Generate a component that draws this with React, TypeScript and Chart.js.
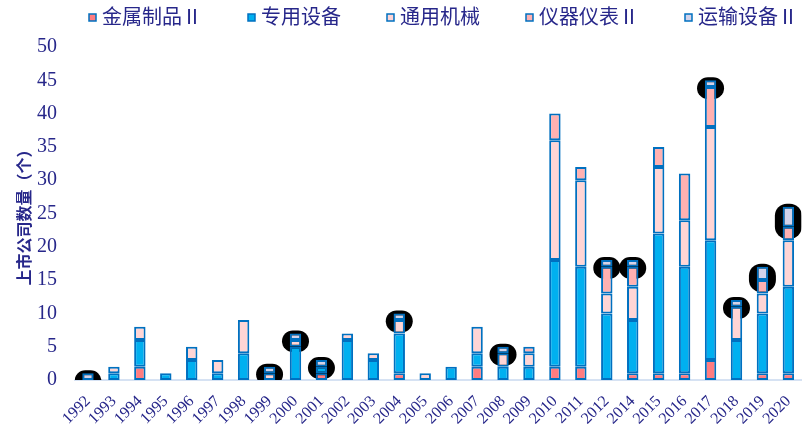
import React, { useEffect, useRef } from "react";
import { Chart, registerables } from "chart.js";

Chart.register(...registerables);

const years = [
  "1992", "1993", "1994", "1995", "1996", "1997", "1998", "1999", "2000", "2001",
  "2002", "2003", "2004", "2005", "2006", "2007", "2008", "2009", "2010", "2011",
  "2012", "2014", "2015", "2016", "2017", "2018", "2019", "2020",
];
const metalProducts = [0, 0, 2, 0, 0, 0, 0, 0, 0, 1, 0, 0, 1, 0, 0, 2, 0, 0, 2, 2, 0, 1, 1, 1, 3, 0, 1, 1];
const specialEquipment = [0, 1, 4, 1, 3, 1, 4, 0, 5, 1, 6, 3, 6, 0, 2, 2, 2, 2, 16, 15, 10, 8, 21, 16, 18, 6, 9, 13];
const generalMachinery = [0, 1, 2, 0, 2, 2, 5, 1, 1, 0, 1, 1, 2, 1, 0, 4, 2, 2, 18, 13, 3, 5, 10, 7, 17, 5, 3, 7];
const instruments = [0, 0, 0, 0, 0, 0, 0, 0, 0, 0, 0, 0, 0, 0, 0, 0, 0, 1, 4, 2, 4, 3, 3, 7, 6, 0, 2, 2];
const transportEquipment = [1, 0, 0, 0, 0, 0, 0, 1, 1, 1, 0, 0, 1, 0, 0, 0, 1, 0, 0, 0, 1, 1, 0, 0, 1, 1, 2, 3];

const seriesNames = ["金属制品Ⅱ", "专用设备", "通用机械", "仪器仪表Ⅱ", "运输设备Ⅱ"];
const yTitle = "上市公司数量（个）";

const TEXT = "#27278a";
const SERIF = "'Liberation Serif', 'Times New Roman', 'DejaVu Serif', serif";
const LEGEND_FONT = "'Liberation Serif', 'Noto Sans CJK SC', serif";

export default function App() {
  const ref = useRef<HTMLCanvasElement | null>(null);

  useEffect(() => {
    document.body.style.margin = "0";
    const canvas = ref.current;
    if (!canvas) return;

    const fills = ["#ff7c80", "#00b0f0", "#ffd5d5", "#ffb1b1", "#d3d3ea"];
    const data = [metalProducts, specialEquipment, generalMachinery, instruments, transportEquipment];

    const blobPlugin = {
      id: "blobs",
      beforeDatasetsDraw(chart: any) {
        const { ctx, chartArea } = chart;
        const meta = chart.getDatasetMeta(4);
        ctx.save();
        ctx.beginPath();
        ctx.rect(chartArea.left, chartArea.top - 20, chartArea.right - chartArea.left, chartArea.bottom - chartArea.top + 20);
        ctx.clip();
        ctx.fillStyle = "#000";
        meta.data.forEach((el: any, i: number) => {
          if (!transportEquipment[i]) return;
          const top = Math.min(el.y, el.base) - 3;
          const bottom = Math.max(el.y, el.base) + 12;
          const x = el.x;
          const w = 13.5;
          const r = Math.min(12, (bottom - top) / 2);
          ctx.beginPath();
          ctx.roundRect(x - w, top, w * 2, bottom - top, r);
          ctx.fill();
        });
        ctx.restore();
      },
    };

    const legendPlugin = {
      id: "customLegend",
      afterDraw(chart: any) {
        const { ctx } = chart;
        ctx.save();
        ctx.font = `20px ${LEGEND_FONT}`;
        ctx.textBaseline = "middle";
        let x = 89;
        const cy = 18;
        seriesNames.forEach((name, i) => {
          ctx.fillStyle = fills[i];
          ctx.fillRect(x, cy - 4, 7, 7);
          ctx.strokeStyle = "#0070c0";
          ctx.lineWidth = 1.5;
          ctx.strokeRect(x, cy - 4, 7, 7);
          ctx.fillStyle = TEXT;
          ctx.fillText(name, x + 13, cy + 1);
          x += 13 + ctx.measureText(name).width + 46;
        });
        ctx.restore();
      },
    };

    const chart = new Chart(canvas, {
      type: "bar",
      data: {
        labels: years,
        datasets: data.map((d, i) => ({
          label: seriesNames[i],
          data: d,
          backgroundColor: fills[i],
          borderColor: "#0070c0",
          borderWidth: 2,
          borderSkipped: false,
          stack: "s",
          barPercentage: 0.44,
          categoryPercentage: 1,
        })),
      },
      options: {
        animation: false,
        responsive: true,
        maintainAspectRatio: false,
        layout: { padding: { top: 47, right: 3, bottom: 0, left: 0 } },
        plugins: {
          legend: { display: false },
          tooltip: { enabled: false },
        },
        scales: {
          x: {
            stacked: true,
            grid: { display: false },
            border: { display: true, color: "#d6e2f3", width: 2 },
            ticks: {
              color: TEXT,
              font: { family: SERIF, size: 16 },
              maxRotation: 45,
              minRotation: 45,
              autoSkip: false,
              padding: 4,
            },
            afterFit(scale: any) {
              scale.height = 44;
            },
          },
          y: {
            stacked: true,
            min: 0,
            max: 50,
            grid: { display: false },
            border: { display: false },
            ticks: {
              stepSize: 5,
              color: TEXT,
              font: { family: SERIF, size: 20 },
              padding: 10,
            },
            title: {
              display: true,
              text: yTitle,
              color: TEXT,
              font: { family: "'Noto Sans CJK SC', sans-serif", size: 16, weight: "bold" },
              padding: { top: 14, bottom: 0 },
            },
            afterFit(scale: any) {
              scale.width = 75;
            },
          },
        },
      },
      plugins: [blobPlugin, legendPlugin],
    });

    return () => chart.destroy();
  }, []);

  return (
    <div style={{ width: 806, height: 424, position: "relative" }}>
      <canvas ref={ref} />
    </div>
  );
}
